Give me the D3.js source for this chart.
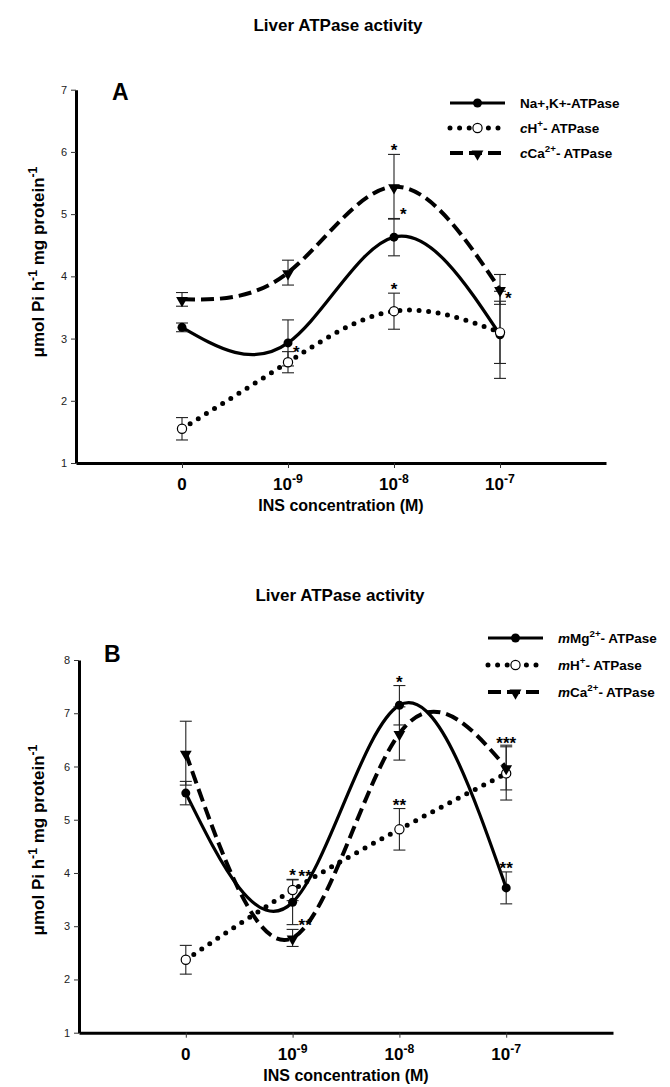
<!DOCTYPE html>
<html>
<head>
<meta charset="utf-8">
<script src="https://cdn.jsdelivr.net/npm/d3@7"></script>
<style>
body { margin: 0; background: #fff; }
svg { font-family: Arial, "Liberation Sans", sans-serif; }
</style>
</head>
<body>
<script>
var width = 670,
    height = 1087;

// x categories (INS concentration)
var xIndex = [0, 1, 2, 3];
var tickBase = ["0", "10", "10", "10"];
var tickExp = ["", "-9", "-8", "-7"];

// panel A
var aNaK = [3.18, 2.93, 4.63, 3.06],
    aNaKErr = [0.07, 0.37, 0.30, 0.70],
    aNaKStars = ["", "*", "*", ""],
    aNaKStarPos = ["", "right", "topright", ""];
var aH = [1.55, 2.62, 3.44, 3.10],
    aHErr = [0.18, 0.17, 0.29, 0.50],
    aHStars = ["", "", "*", ""],
    aHStarPos = ["", "", "top", ""];
var aCa = [3.63, 4.06, 5.44, 3.79],
    aCaErr = [0.11, 0.20, 0.52, 0.24],
    aCaStars = ["", "", "*", "*"],
    aCaStarPos = ["", "", "top", "right"];

// panel B
var bMg = [5.50, 3.45, 7.15, 3.72],
    bMgErr = [0.22, 0.42, 0.37, 0.30],
    bMgStars = ["", "**", "*", "**"],
    bMgStarPos = ["", "topright", "top", "top"];
var bH = [2.37, 3.68, 4.82, 5.87],
    bHErr = [0.27, 0.20, 0.39, 0.50],
    bHStars = ["", "*", "**", "***"],
    bHStarPos = ["", "top", "top", "top"];
var bCa = [6.25, 2.78, 6.62, 5.98],
    bCaErr = [0.60, 0.16, 0.50, 0.42],
    bCaStars = ["", "**", "", ""],
    bCaStarPos = ["", "topright", "", ""];

// legend labels: [text, kind] kind: "" normal, "i" italic, "s" superscript
var aLabels = [
    [["Na+,K+-ATPase", ""]],
    [["c", "i"], ["H", ""], ["+", "s"], ["- ATPase", ""]],
    [["c", "i"], ["Ca", ""], ["2+", "s"], ["- ATPase", ""]]
];
var bLabels = [
    [["m", "i"], ["Mg", ""], ["2+", "s"], ["- ATPase", ""]],
    [["m", "i"], ["H", ""], ["+", "s"], ["- ATPase", ""]],
    [["m", "i"], ["Ca", ""], ["2+", "s"], ["- ATPase", ""]]
];
var yLabelParts = [["\u03bcmol Pi h", ""], ["-1", "s"], [" mg protein", ""], ["-1", "s"]];

var svg = d3.select('body')
    .append('svg')
        .attr('width', width)
        .attr('height', height);

function rich(text, parts, shift) {
    var up = false;
    parts.forEach(function(p){
        var t = text.append('tspan').text(p[0]);
        if (p[1] == 'i') t.attr('font-style', 'italic');
        if (p[1] == 's') {
            t.attr('dy', -shift).attr('font-size', '0.72em');
            up = true;
        } else if (up) {
            t.attr('dy', shift);
            up = false;
        }
    });
}

var styles = {
    solid:  { w: 3.2, dash: null, cap: 'butt' },
    dotted: { w: 5, dash: '0 9.6', cap: 'round' },
    dashed: { w: 4, dash: '13 6', cap: 'butt' }
};

function marker(g, kind, cx, cy) {
    if (kind == 'dot') {
        g.append('circle').attr('cx', cx).attr('cy', cy).attr('r', 4.5).attr('fill', '#000');
    } else if (kind == 'open') {
        g.append('circle').attr('cx', cx).attr('cy', cy).attr('r', 4.6)
            .attr('fill', '#fff').attr('stroke', '#000').attr('stroke-width', 1.2);
    } else {
        g.append('path').attr('d', d3.symbol().type(d3.symbolTriangle).size(60)())
            .attr('transform', 'translate(' + cx + ',' + (cy + 1) + ') rotate(180)')
            .attr('fill', '#000');
    }
}

function drawPanel(p) {
    var x = d3.scaleLinear().domain([-1, 4]).range([p.left, p.right]);
    var y = d3.scaleLinear().domain([1, p.yMax]).range([p.bottom, p.top]);
    var g = svg.append('g');

    g.append('text')
        .attr('x', p.titleX).attr('y', p.titleY)
        .attr('text-anchor', 'middle')
        .attr('font-size', 17).attr('font-weight', 'bold')
        .text('Liver ATPase activity');

    g.append('text')
        .attr('x', p.letterX).attr('y', p.letterY)
        .attr('font-size', 23).attr('font-weight', 'bold')
        .text(p.letter);

    // y axis
    var ya = g.append('g')
        .attr('transform', 'translate(' + p.left + ',0)')
        .call(d3.axisLeft(y).tickValues(d3.range(1, p.yMax + 1)).tickFormat(d3.format('d'))
            .tickSize(5).tickSizeOuter(0).tickPadding(4));
    ya.select('.domain').attr('stroke-width', 3);
    ya.selectAll('.tick line').attr('stroke', '#333');
    ya.selectAll('.tick text').attr('font-size', 11).attr('font-family', 'Arial, "Liberation Sans", sans-serif').attr('fill', '#222');

    // x axis
    var xa = g.append('g')
        .attr('transform', 'translate(0,' + p.bottom + ')')
        .call(d3.axisBottom(x).tickValues(xIndex).tickSize(5).tickSizeOuter(0).tickFormat(''));
    xa.select('.domain').attr('stroke-width', 3);
    xa.selectAll('.tick line').attr('stroke', '#333');

    xIndex.forEach(function(i){
        var t = g.append('text')
            .attr('x', x(i)).attr('y', p.bottom + 27)
            .attr('text-anchor', 'middle')
            .attr('font-size', 17).attr('font-weight', 'bold');
        rich(t, tickExp[i] ? [[tickBase[i], ''], [tickExp[i], 's']] : [[tickBase[i], '']], 7);
    });

    g.append('text')
        .attr('x', x(1.5)).attr('y', p.bottom + 48)
        .attr('text-anchor', 'middle')
        .attr('font-size', 16).attr('font-weight', 'bold')
        .text('INS concentration (M)');

    var yl = g.append('text')
        .attr('transform', 'translate(' + p.ylabelX + ',' + p.ylabelY + ') rotate(-90)')
        .attr('text-anchor', 'middle')
        .attr('font-size', 17).attr('font-weight', 'bold');
    rich(yl, yLabelParts, 7);

    var line = d3.line()
        .x(function(d, i){ return x(i); })
        .y(function(d){ return y(d); })
        .curve(d3.curveNatural);

    p.series.forEach(function(s){
        var st = styles[s.style];
        g.append('path')
            .attr('d', line(s.vals))
            .attr('fill', 'none')
            .attr('stroke', '#000')
            .attr('stroke-width', st.w)
            .attr('stroke-dasharray', st.dash)
            .attr('stroke-linecap', st.cap);
    });

    p.series.forEach(function(s){
        s.vals.forEach(function(v, i){
            var cx = x(i), y0 = y(v - s.err[i]), y1 = y(v + s.err[i]);
            g.append('line').attr('x1', cx).attr('x2', cx).attr('y1', y0).attr('y2', y1)
                .attr('stroke', '#222').attr('stroke-width', 1.1);
            [y0, y1].forEach(function(yy){
                g.append('line').attr('x1', cx - 6).attr('x2', cx + 6).attr('y1', yy).attr('y2', yy)
                    .attr('stroke', '#222').attr('stroke-width', 1.1);
            });
        });
    });

    p.series.forEach(function(s){
        s.vals.forEach(function(v, i){ marker(g, s.marker, x(i), y(v)); });
    });

    p.series.forEach(function(s){
        s.stars.forEach(function(txt, i){
            if (!txt) return;
            var cx = x(i), cy = y(s.vals[i]), capTop = y(s.vals[i] + s.err[i]);
            var t = g.append('text').attr('font-size', 17).attr('font-weight', 'bold').text(txt);
            if (s.starPos[i] == 'top') {
                t.attr('x', cx).attr('y', capTop + 2).attr('text-anchor', 'middle');
            } else if (s.starPos[i] == 'topright') {
                t.attr('x', cx + 6).attr('y', capTop + 2);
            } else {
                t.attr('x', cx + 5).attr('y', cy + 15);
            }
        });
    });

    // legend
    p.series.forEach(function(s, k){
        var ly = p.legendY + k * p.legendDy, st = styles[s.style];
        g.append('line')
            .attr('x1', p.legendX).attr('x2', p.legendX + 55)
            .attr('y1', ly).attr('y2', ly)
            .attr('stroke', '#000')
            .attr('stroke-width', st.w)
            .attr('stroke-dasharray', st.dash)
            .attr('stroke-linecap', st.cap);
        marker(g, s.marker, p.legendX + 27.5, ly);
        var t = g.append('text')
            .attr('x', p.legendX + 70).attr('y', ly + 5)
            .attr('font-size', 13.5).attr('font-weight', 'bold');
        rich(t, s.label, 6);
    });
}

drawPanel({
    left: 76, right: 606, top: 89.7, bottom: 463, yMax: 7,
    titleX: 338, titleY: 31, letter: 'A', letterX: 112, letterY: 100,
    ylabelX: 44, ylabelY: 262,
    legendX: 450, legendY: 103, legendDy: 25,
    series: [
        { vals: aNaK, err: aNaKErr, stars: aNaKStars, starPos: aNaKStarPos, style: 'solid', marker: 'dot', label: aLabels[0] },
        { vals: aH, err: aHErr, stars: aHStars, starPos: aHStarPos, style: 'dotted', marker: 'open', label: aLabels[1] },
        { vals: aCa, err: aCaErr, stars: aCaStars, starPos: aCaStarPos, style: 'dashed', marker: 'tri', label: aLabels[2] }
    ]
});

drawPanel({
    left: 79, right: 613, top: 660, bottom: 1032.7, yMax: 8,
    titleX: 340, titleY: 601, letter: 'B', letterX: 104, letterY: 662,
    ylabelX: 44, ylabelY: 840,
    legendX: 488, legendY: 638, legendDy: 27,
    series: [
        { vals: bMg, err: bMgErr, stars: bMgStars, starPos: bMgStarPos, style: 'solid', marker: 'dot', label: bLabels[0] },
        { vals: bH, err: bHErr, stars: bHStars, starPos: bHStarPos, style: 'dotted', marker: 'open', label: bLabels[1] },
        { vals: bCa, err: bCaErr, stars: bCaStars, starPos: bCaStarPos, style: 'dashed', marker: 'tri', label: bLabels[2] }
    ]
});
</script>
</body>
</html>
